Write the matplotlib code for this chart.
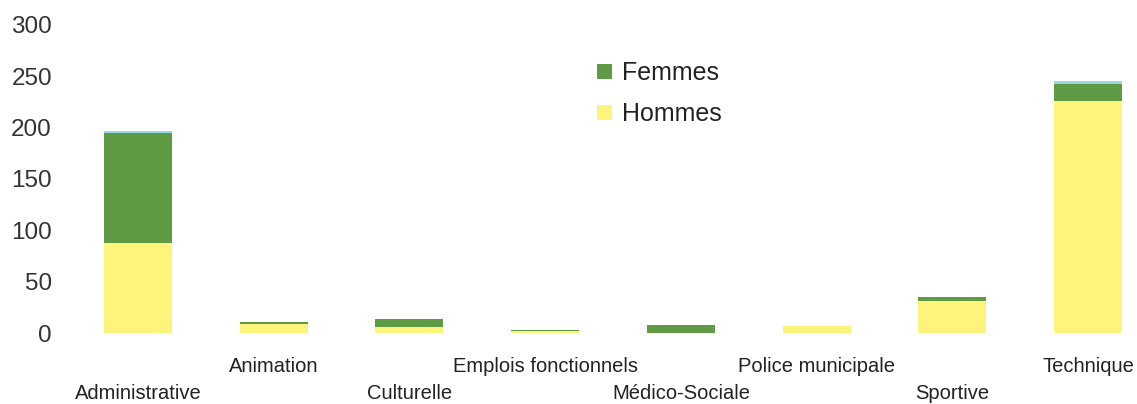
import numpy as np
import matplotlib
matplotlib.use('Agg')
import matplotlib.pyplot as plt

plt.rcParams['font.family'] = ['Liberation Sans', 'DejaVu Sans']

# data
filieres = ['Administrative', 'Animation', 'Culturelle', 'Emplois fonctionnels',
            'Médico-Sociale', 'Police municipale', 'Sportive', 'Technique']
hommes = [88, 9, 6, 2, 0, 7, 31, 226]
femmes = [107, 2, 8, 1, 8, 0, 4, 17]
autres = [2, 0, 0, 0, 0, 0, 0, 2]   # thin cyan strip, not in legend
y_ticks = [0, 50, 100, 150, 200, 250, 300]

col_hommes = '#fdf47c'
col_femmes = '#5f9a45'
col_autres = '#98d8e4'

fig = plt.figure(figsize=(11.37, 4.04), dpi=100)
ax = fig.add_axes([70 / 1137, 71 / 404, 1 - 70 / 1137, 308 / 404])

x = np.arange(len(filieres))
width = 0.5
b1 = ax.bar(x, hommes, width, color=col_hommes, label='Hommes')
b2 = ax.bar(x, femmes, width, bottom=hommes, color=col_femmes, label='Femmes')
base = np.array(hommes) + np.array(femmes)
ax.bar(x, autres, width, bottom=base, color=col_autres)

ax.set_xlim(-0.5, 7.36)
ax.set_ylim(0, 300)
ax.set_yticks(y_ticks)
ax.set_yticklabels([str(v) for v in y_ticks], fontsize=17.5, color='#333333')
ax.tick_params(axis='y', length=0, pad=13)

ax.set_xticks(x)
ax.set_xticklabels(filieres, fontsize=14.5, color='#222222')
ax.tick_params(axis='x', length=0)
# staggered labels: even ones lower
for i, tick in enumerate(ax.xaxis.get_major_ticks()):
    tick.set_pad(37 if i % 2 == 0 else 17)

for s in ax.spines.values():
    s.set_visible(False)

ax.legend(handles=[b2, b1], labels=['Femmes', 'Hommes'], loc='upper left',
          bbox_to_anchor=(0.473, 0.955), frameon=False, fontsize=18,
          handlelength=0.6, handleheight=0.6, handletextpad=0.4,
          labelspacing=0.68, labelcolor='#222222')

fig.savefig('out.png', dpi=100)
